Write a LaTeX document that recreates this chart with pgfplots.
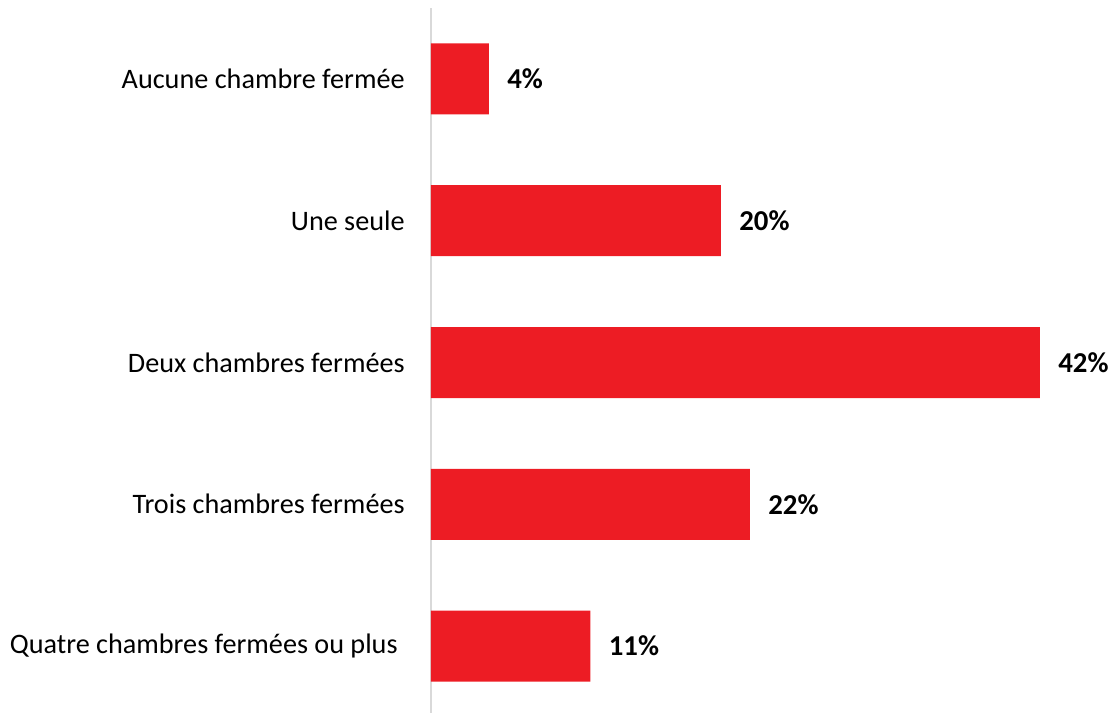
\documentclass[border=0pt]{standalone}
\usepackage{pgfplots}
\pgfplotsset{compat=1.18}
\usepackage{fontspec}
\setmainfont{Carlito}
\definecolor{barred}{HTML}{ED1C24}
\definecolor{axgray}{HTML}{D9D9D9}
\begin{document}
\begin{tikzpicture}
\path[use as bounding box] (0,0) rectangle (555pt,356.5pt);
\begin{axis}[
 at={(215.5pt,-2pt)}, anchor=south west,
 scale only axis, width=304.5pt, height=354.5pt,
 xmin=0, xmax=42, ymin=-0.5, ymax=4.5, y dir=reverse,
 xbar, bar width=35.5pt,
 axis line style={draw=none}, major tick length=0pt,
 xtick=\empty, ytick={0,1,2,3,4},
 yticklabels={Aucune chambre fermée, Une seule, Deux chambres fermées, Trois chambres fermées, {Quatre chambres fermées ou plus\kern3.5pt\null}},
 yticklabel style={font=\fontsize{14.1pt}{16pt}\selectfont, inner sep=0pt, xshift=-13pt},
 clip=false,
 point meta=x,
 nodes near coords={\pgfmathprintnumber{\pgfplotspointmeta}\%},
 nodes near coords style={font=\fontsize{14.4pt}{16pt}\selectfont\bfseries, anchor=west, inner sep=0pt, xshift=9pt, /pgf/number format/assume math mode=true},
]
\draw[axgray, line width=1pt] (axis cs:0,-0.5) -- (axis cs:0,4.5);
\addplot[fill=barred, draw=none] coordinates {(4,0) (20,1) (42,2) (22,3) (11,4)};
\end{axis}
\end{tikzpicture}
\end{document}
